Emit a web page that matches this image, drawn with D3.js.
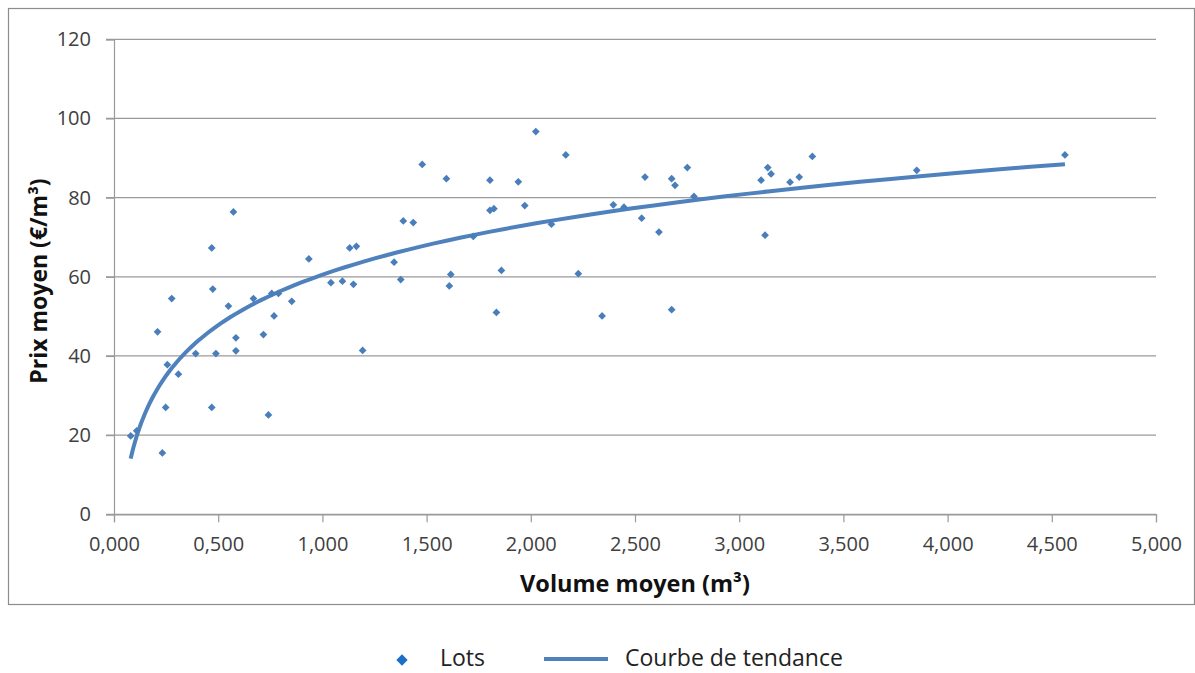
<!DOCTYPE html>
<html>
<head>
<meta charset="utf-8">
<script src="https://cdn.jsdelivr.net/npm/d3@7"></script>
<style>
  body { margin: 0; background: #fff; }
  text { font-family: "Open Sans", sans-serif; }
</style>
</head>
<body>
<div id="chart"></div>
<script>
// Volume moyen (m3) of each lot
const volumes = [
  0.080, 0.109, 0.232, 0.248, 0.209, 0.277, 0.256, 0.309, 0.392, 0.469,
  0.469, 0.474, 0.489, 0.573, 0.549, 0.585, 0.585, 0.669, 0.717, 0.741,
  0.757, 0.789, 0.768, 0.853, 0.935, 1.041, 1.096, 1.149, 1.131, 1.163,
  1.193, 1.344, 1.376, 1.388, 1.436, 1.479, 1.595, 1.609, 1.616, 1.724,
  1.804, 1.804, 1.823, 1.835, 1.859, 1.940, 1.971, 2.024, 2.099, 2.168,
  2.228, 2.342, 2.396, 2.447, 2.532, 2.548, 2.615, 2.676, 2.692, 2.676,
  2.751, 2.783, 3.105, 3.137, 3.153, 3.124, 3.244, 3.288, 3.351, 3.852,
  4.563
];

// Prix moyen (EUR/m3) matching each volume above
const prices = [
  19.8, 21.1, 15.5, 27.0, 46.1, 54.5, 37.8, 35.4, 40.6, 27.0,
  67.3, 56.9, 40.6, 76.4, 52.6, 44.6, 41.3, 54.5, 45.4, 25.1,
  55.8, 55.8, 50.1, 53.8, 64.5, 58.5, 58.9, 58.1, 67.3, 67.7,
  41.4, 63.7, 59.3, 74.1, 73.7, 88.4, 84.8, 57.7, 60.6, 70.2,
  84.4, 76.8, 77.2, 51.0, 61.6, 84.0, 78.0, 96.7, 73.3, 90.8,
  60.8, 50.1, 78.2, 77.6, 74.8, 85.2, 71.3, 84.8, 83.1, 51.7,
  87.6, 80.3, 84.4, 87.6, 86.0, 70.5, 83.9, 85.2, 90.4, 86.9,
  90.8
];

const xTicks = [0, 0.5, 1, 1.5, 2, 2.5, 3, 3.5, 4, 4.5, 5];
const yTicks = [0, 20, 40, 60, 80, 100, 120];

const width = 1195;
const height = 673;

const svg = d3.select("#chart")
  .append("svg")
  .attr("width", width)
  .attr("height", height);

// outer chart frame
svg.append("rect")
  .attr("x", 8.5)
  .attr("y", 8.5)
  .attr("width", 1186)
  .attr("height", 596)
  .attr("fill", "none")
  .attr("stroke", "#8c8c8c")
  .attr("stroke-width", 1.2);

const x = d3.scaleLinear().domain([0, 5]).range([114, 1156]);
const y = d3.scaleLinear().domain([0, 120]).range([514.3, 39.3]);

// French style numbers: comma as decimal separator
const fr = d3.formatLocale({ decimal: ",", thousands: " ", grouping: [3], currency: ["", " €"] });

// horizontal gridlines
svg.append("g")
  .selectAll("line")
  .data(yTicks)
  .join("line")
  .attr("x1", 106)
  .attr("x2", 1156)
  .attr("y1", d => y(d))
  .attr("y2", d => y(d))
  .attr("stroke", "#9a9a9a")
  .attr("stroke-width", 1.2);

// y axis
const yAxis = svg.append("g")
  .attr("transform", `translate(${x(0)},0)`)
  .call(d3.axisLeft(y).tickValues(yTicks).tickSize(8).tickPadding(15));
yAxis.select(".domain").attr("stroke", "#9a9a9a").attr("stroke-width", 1.2);
yAxis.selectAll(".tick line").attr("stroke", "#9a9a9a").attr("stroke-width", 1.2);
yAxis.selectAll(".tick text")
  .attr("font-size", 20)
  .attr("fill", "#404040")
  .style("font-family", "Open Sans");

// x axis
const xAxis = svg.append("g")
  .attr("transform", `translate(0,${y(0)})`)
  .call(d3.axisBottom(x).tickValues(xTicks).tickSize(8).tickPadding(15)
    .tickFormat(fr.format(".3f")));
xAxis.select(".domain").attr("stroke", "#9a9a9a").attr("stroke-width", 1.2);
xAxis.selectAll(".tick line").attr("stroke", "#9a9a9a").attr("stroke-width", 1.2);
xAxis.selectAll(".tick text")
  .attr("font-size", 20)
  .attr("fill", "#404040")
  .style("font-family", "Open Sans");

// axis titles
svg.append("text")
  .attr("x", (x(0) + x(5)) / 2)
  .attr("y", 592)
  .attr("text-anchor", "middle")
  .attr("font-size", 23.5)
  .attr("font-weight", "bold")
  .attr("fill", "#111")
  .text("Volume moyen (m³)");

svg.append("text")
  .attr("transform", "translate(47,281) rotate(-90)")
  .attr("text-anchor", "middle")
  .attr("font-size", 23)
  .attr("font-weight", "bold")
  .attr("fill", "#111")
  .text("Prix moyen (€/m³)");

// logarithmic trend (y = a ln x + b), least squares on the lots
const lots = volumes.map((v, i) => ({ v, p: prices[i] }));
const lx = lots.map(d => Math.log(d.v));
const mx = d3.mean(lx);
const my = d3.mean(prices);
const a = d3.sum(lx, (l, i) => (l - mx) * (prices[i] - my)) / d3.sum(lx, l => (l - mx) ** 2);
const b = my - a * mx;

const [vMin, vMax] = d3.extent(volumes);
const trendX = d3.range(0, 101).map(i => vMin * Math.pow(vMax / vMin, i / 100));

svg.append("path")
  .datum(trendX)
  .attr("fill", "none")
  .attr("stroke", "#4f81bd")
  .attr("stroke-width", 4)
  .attr("d", d3.line().x(d => x(d)).y(d => y(a * Math.log(d) + b)));

// scatter markers (diamonds)
const diamond = d3.symbol(d3.symbolSquare, 30);
svg.append("g")
  .selectAll("path")
  .data(lots)
  .join("path")
  .attr("d", diamond)
  .attr("transform", d => `translate(${x(d.v)},${y(d.p)}) rotate(45)`)
  .attr("fill", "#4a7ebb");

// legend
const legend = svg.append("g");
legend.append("path")
  .attr("d", d3.symbol(d3.symbolSquare, 64))
  .attr("transform", "translate(402,660) rotate(45)")
  .attr("fill", "#1c6fc6");
legend.append("text")
  .attr("x", 440)
  .attr("y", 666)
  .attr("font-size", 23)
  .attr("fill", "#222")
  .text("Lots");
legend.append("line")
  .attr("x1", 544)
  .attr("x2", 608)
  .attr("y1", 659)
  .attr("y2", 659)
  .attr("stroke", "#4f81bd")
  .attr("stroke-width", 4);
legend.append("text")
  .attr("x", 625)
  .attr("y", 666)
  .attr("font-size", 23)
  .attr("fill", "#222")
  .text("Courbe de tendance");
</script>
</body>
</html>
